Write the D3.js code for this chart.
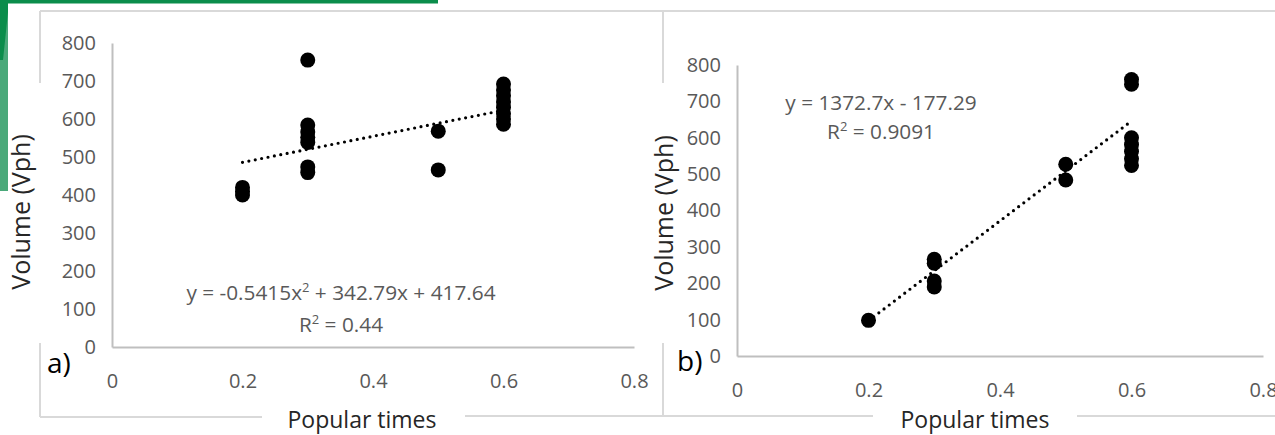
<!DOCTYPE html>
<html>
<head>
<meta charset="utf-8">
<script src="https://cdn.jsdelivr.net/npm/d3@7"></script>
<style>
  body { margin: 0; background: #fff; }
  svg text { font-family: "Open Sans", "Noto Sans", sans-serif; }
  .tick text { fill: #595959; }
</style>
</head>
<body>
<svg id="chart" width="1275" height="435"></svg>
<script>
// axis ticks shared by both panels
var xTicks = [0, 0.2, 0.4, 0.6, 0.8];
var yTicks = [0, 100, 200, 300, 400, 500, 600, 700, 800];

// panel a) observations
var popularA = [0.2, 0.2, 0.2, 0.3, 0.3, 0.3, 0.3, 0.3, 0.3, 0.3, 0.5, 0.5,
                0.6, 0.6, 0.6, 0.6, 0.6, 0.6, 0.6, 0.6];
var volumeA  = [420, 410, 400, 755, 584, 566, 552, 538, 474, 459, 568, 466,
                692, 676, 661, 645, 630, 614, 600, 586];
var trendA = [[0.2, 486], [0.6, 623]];
var eqA = ["y = -0.5415x", "2", " + 342.79x + 417.64"];
var r2A = "0.44";

// panel b) observations
var popularB = [0.2, 0.3, 0.3, 0.3, 0.3, 0.5, 0.5, 0.6, 0.6, 0.6, 0.6, 0.6, 0.6, 0.6];
var volumeB  = [98, 266, 255, 206, 190, 527, 484, 760, 747, 600, 581, 562, 542, 524];
var trendB = [[0.2, 97], [0.6, 646]];
var eqB = ["y = 1372.7x - 177.29"];
var r2B = "0.9091";

var svg = d3.select("#chart");
var frame = "#d9d9d9";

// decoration in the top-left corner
svg.append("rect").attr("x", 0).attr("y", 0).attr("width", 438).attr("height", 3.5).attr("fill", "#0b8d4b");
svg.append("rect").attr("x", 0).attr("y", 0).attr("width", 8).attr("height", 191).attr("fill", "#4aa97a");
svg.append("path").attr("d", "M0,0 L8,0 L8,12 L3,60 L0,60 Z").attr("fill", "#0b8d4b");

// chart frames (broken where the axis titles sit)
var frameLines = [
  [40, 11, 1275, 11],
  [40, 11, 40, 83], [40, 343, 40, 417],
  [40, 417, 262, 417], [465, 416, 873, 416], [1077, 416, 1275, 416],
  [663, 11, 663, 83], [663, 343, 663, 416]
];
svg.selectAll(".frame").data(frameLines).enter().append("line")
    .attr("x1", d => d[0]).attr("y1", d => d[1])
    .attr("x2", d => d[2]).attr("y2", d => d[3])
    .attr("stroke", frame).attr("stroke-width", 2);

function drawPanel(opt) {
  var x = d3.scaleLinear().domain([0, 0.8]).range(opt.xr);
  var y = d3.scaleLinear().domain([0, 800]).range(opt.yr);
  var g = svg.append("g");

  var xa = g.append("g")
      .attr("transform", "translate(0," + opt.yr[0] + ")")
      .call(d3.axisBottom(x).tickValues(xTicks).tickSize(0).tickPadding(27)
              .tickFormat(d => d === 0 ? "0" : d3.format(".1f")(d)));
  var ya = g.append("g")
      .attr("transform", "translate(" + opt.xr[0] + ",0)")
      .call(d3.axisLeft(y).tickValues(yTicks).tickSize(0).tickPadding(16));
  [xa, ya].forEach(a => {
    a.select(".domain").attr("stroke", "#bfbfbf").attr("stroke-width", 2);
    a.selectAll("text").attr("font-size", 20).attr("fill", "#595959");
  });

  // dotted trendline
  g.append("path")
      .datum(opt.trend)
      .attr("d", d3.line().x(d => x(d[0])).y(d => y(d[1])))
      .attr("fill", "none").attr("stroke", "#000")
      .attr("stroke-width", 3.2).attr("stroke-linecap", "round")
      .attr("stroke-dasharray", "0,6.5");

  g.selectAll(".pt").data(opt.px.map((v, i) => [v, opt.py[i]])).enter()
    .append("circle")
      .attr("cx", d => x(d[0])).attr("cy", d => y(d[1]))
      .attr("r", 7.5).attr("fill", "#000");

  // equation and R squared
  var t1 = g.append("text").attr("x", opt.eqPos[0]).attr("y", opt.eqPos[1])
      .attr("text-anchor", "middle").attr("font-size", 20.8).attr("fill", "#595959");
  opt.eq.forEach((s, i) => {
    var sp = t1.append("tspan").text(s);
    if (opt.eq.length > 1 && i === 1) sp.attr("font-size", 13).attr("dy", -8);
    if (opt.eq.length > 1 && i === 2) sp.attr("dy", 8);
  });
  var t2 = g.append("text").attr("x", opt.eqPos[0]).attr("y", opt.eqPos[1] + opt.eqGap)
      .attr("text-anchor", "middle").attr("font-size", 20.8).attr("fill", "#595959");
  t2.append("tspan").text("R");
  t2.append("tspan").text("2").attr("font-size", 13).attr("dy", -8);
  t2.append("tspan").text(" = " + opt.r2).attr("dy", 8);

  // axis titles
  g.append("text")
      .attr("transform", "translate(" + opt.yTitle[0] + "," + opt.yTitle[1] + ") rotate(-90)")
      .attr("text-anchor", "middle").attr("font-size", 25).attr("fill", "#262626")
      .text("Volume (Vph)");
  g.append("text")
      .attr("x", opt.xTitle[0]).attr("y", opt.xTitle[1])
      .attr("text-anchor", "middle").attr("font-size", 23).attr("fill", "#262626")
      .text("Popular times");

  // panel letter
  g.append("text").attr("x", opt.tag[0]).attr("y", opt.tag[1])
      .attr("font-size", 28).attr("fill", "#000").text(opt.tagText);
}

drawPanel({
  xr: [112, 634], yr: [347, 43],
  px: popularA, py: volumeA, trend: trendA,
  eq: eqA, r2: r2A, eqPos: [341, 300], eqGap: 32,
  yTitle: [30, 212], xTitle: [362, 428],
  tag: [47, 373], tagText: "a)"
});

drawPanel({
  xr: [737, 1263], yr: [356, 65],
  px: popularB, py: volumeB, trend: trendB,
  eq: eqB, r2: r2B, eqPos: [881, 110], eqGap: 29,
  yTitle: [673, 213], xTitle: [975, 428],
  tag: [677, 371], tagText: "b)"
});
</script>
</body>
</html>
